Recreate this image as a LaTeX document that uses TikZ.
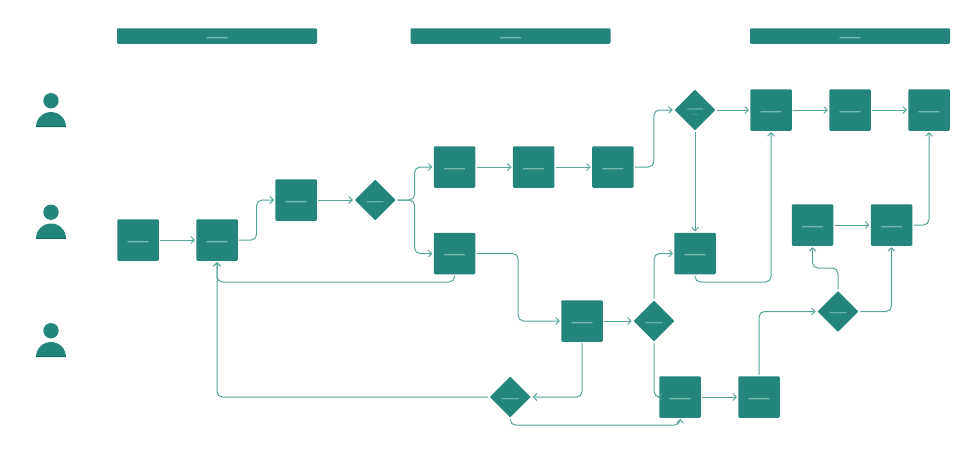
\documentclass[tikz,border=0pt]{standalone}
\usepackage{fontspec}
\newfontfamily\dashfont{Liberation Sans}
\usetikzlibrary{shapes.geometric,arrows.meta,calc}
\definecolor{teal}{HTML}{24867A}
\definecolor{tealdark}{HTML}{0E6C5F}
\definecolor{tealline}{HTML}{55A59A}
\definecolor{teallabel}{HTML}{74B8AE}
\newcommand{\dashlabel}[2][0pt]{{\dashfont\fontsize{#2}{#2}\selectfont\smash{\raisebox{#1}{—}}}}
\tikzset{
  tbox/.style={rectangle,fill=teal,rounded corners=1.2pt,minimum width=41.5pt,minimum height=41.5pt,inner sep=0pt,outer sep=1.4pt,text=teallabel},
  tdec/.style={diamond,fill=teal,rounded corners=0.8pt,minimum width=42pt,minimum height=42pt,aspect=1,inner sep=0pt,outer sep=1.4pt,text=teallabel},
  tbar/.style={rectangle,fill=teal,rounded corners=1.2pt,minimum width=200pt,minimum height=15.5pt,inner sep=0pt,text=teallabel},
  conn/.style={draw=tealline,line width=1pt,rounded corners=5.5pt,-{Straight Barb[length=3.4pt,width=7pt,line width=1pt]}}
}
\begin{document}
\begin{tikzpicture}[x=1pt,y=-1pt]
\useasboundingbox (0,0) rectangle (980,450);
% lane headers
\node[tbar] (h1) at (217,36) {\dashlabel[-7.6pt]{21}};
\node[tbar] (h2) at (510.5,36) {\dashlabel[-7.6pt]{21}};
\node[tbar] (h3) at (850,36) {\dashlabel[-7.6pt]{21}};
% actors
\foreach \n/\b in {p1/127,p2/238.5,p3/357}{
  \fill[teal] (51,\b-26.3) circle (7.7);
  \fill[teal] (36,\b) arc[start angle=180,end angle=0,x radius=15,y radius=-15] -- cycle;
  \fill[tealdark] (36,\b-1) rectangle (66,\b);
}
% boxes
\foreach \n/\x/\y in {b1/138/240,b2/217/240,b3/296.2/200,b4/454.5/167,b5/533.7/167,b6/612.8/167,
  b7/454.5/253.5,b8/695/253.5,b9/582/321,b10/680/397,b11/759/397,b12/771/110,b13/850/110,b14/929/110,
  b15/812.5/225,b16/891.5/225}{
  \node[tbox] (\n) at (\x,\y) {\dashlabel[-7.2pt]{21}};
}
% decisions
\foreach \n/\x/\y in {d1/375.2/200,d3/654/321,d4/510.3/397,d5/838/311.5}{
  \node[tdec] (\n) at (\x,\y) {\dashlabel[-6pt]{17}};
}
\node[tdec] (d2) at (695,110) {\makebox[0pt]{\dashlabel[-3.2pt]{16}}\makebox[0pt]{\dashlabel[-6pt]{6}}};
% connectors
\draw[conn] (b1.east) -- (b2.west);
\draw[conn] (b2.east) -| ($(b2.east)!.5!(b3.west)$) |- (b3.west);
\draw[conn] (b3.east) -- (d1.west);
\draw[conn] (d1.east) -- ++(17,0) |- (b4.west);
\draw[conn] (d1.east) -- ++(17,0) |- (b7.west);
\draw[conn] (b4.east) -- (b5.west);
\draw[conn] (b5.east) -- (b6.west);
\draw[conn] (b6.east) -- ++(19,0) |- (d2.west);
\draw[conn] (d2.east) -- (b12.west);
\draw[conn] (b12.east) -- (b13.west);
\draw[conn] (b13.east) -- (b14.west);
\draw[conn] (d2.south) -- (b8.north);
\draw[conn] (b8.south) -- ++(0,6.4) -| (b12.south);
\draw[conn] (b7.south) -- ++(0,6.4) -| (b2.south);
\draw[conn] (d4.west) -| (b2.south);
\draw[conn] (b7.east) -- ++(41.5,0) |- (b9.west);
\draw[conn] (b9.east) -- (d3.west);
\draw[conn] (d3.north) |- (b8.west);
\draw[conn] (d3.south) |- (b10.west);
\draw[conn] (b9.south) |- (d4.east);
\draw[conn] (d4.south) -- ++(0,5.8) -| (b10.south);
\draw[conn] (b10.east) -- (b11.west);
\draw[conn] (b11.north) |- (d5.west);
\draw[conn] (d5.north) -- ++(0,-21) -| (b15.south);
\draw[conn] (d5.east) -| (b16.south);
\draw[conn] (b15.east) -- (b16.west);
\draw[conn] (b16.east) -| (b14.south);
\end{tikzpicture}
\end{document}
